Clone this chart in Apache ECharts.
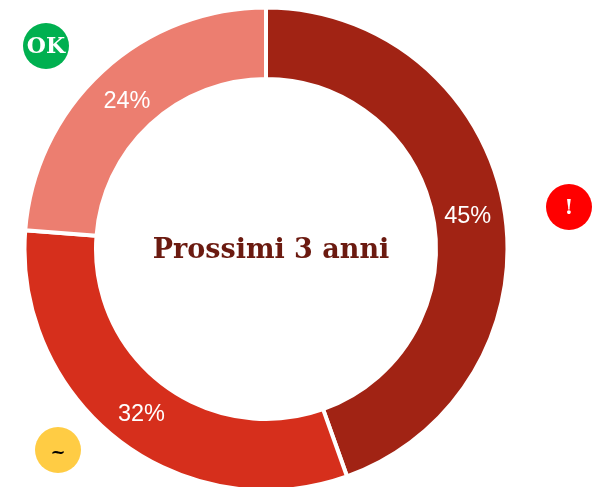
<!DOCTYPE html>
<html lang="en">
<head>
    <meta charset="UTF-8">
    <title>Prossimi 3 anni</title>
    <style>html,body{margin:0;padding:0;background:#fff}</style>
    <script src="https://cdn.jsdelivr.net/npm/echarts@6/dist/echarts.min.js"></script>
</head>
<body>
<div id="main" style="width:597px;height:487px;"></div>
<script>
    var categories = ['Rosso', 'Giallo', 'Verde'];
    var values = [45, 32, 24];
    var colors = ['#A12314', '#D62F1C', '#EC7E70'];
    var centerTitle = 'Prossimi 3 anni';

    function badge(x, y, color, text, textColor, font, textDy) {
        return {
            type: 'group', x: x, y: y, children: [
                {type: 'circle', shape: {cx: 0, cy: 0, r: 23}, style: {fill: color}},
                {type: 'text', x: 0, y: textDy, style: {
                    text: text, fill: textColor, font: font, align: 'center', verticalAlign: 'middle'
                }}
            ]
        };
    }

    var myChart = echarts.init(document.getElementById('main'));
    var option = {
        animation: false,
        title: {
            text: centerTitle,
            left: 266, top: 246,
            textAlign: 'center', textVerticalAlign: 'middle',
            textStyle: {fontFamily: '"DejaVu Serif"', fontWeight: 'bold', fontSize: 27, color: '#6B1A10'}
        },
        series: [{
            type: 'pie',
            center: [266, 249],
            radius: [170, 241.5],
            startAngle: 90,
            clockwise: true,
            itemStyle: {borderColor: '#fff', borderWidth: 4},
            label: {
                position: 'inside',
                formatter: '{c}%',
                color: '#fff',
                fontFamily: '"Liberation Sans"',
                fontSize: 23.5
            },
            labelLine: {show: false},
            labelLayout: function (params) {
                // pull the labels slightly in toward the ring's middle
                var dx = 266 - (params.rect.x + params.rect.width / 2);
                var dy = 249 - (params.rect.y + params.rect.height / 2);
                var d = Math.sqrt(dx * dx + dy * dy);
                return {dx: dx / d * 4, dy: dy / d * 4 + 3};
            },
            data: categories.map(function (name, i) {
                return {name: name, value: values[i], itemStyle: {color: colors[i]}};
            })
        }],
        graphic: [
            badge(46, 46, '#00B050', 'OK', '#fff', 'bold 22px "DejaVu Serif"', 1),
            badge(569, 207, '#FF0000', '!', '#fff', 'bold 20px "DejaVu Serif"', 2),
            badge(58, 450, '#FFCC44', '~', '#000', 'bold 18px "DejaVu Serif"', 3)
        ]
    };
    myChart.setOption(option);
</script>
</body>
</html>
